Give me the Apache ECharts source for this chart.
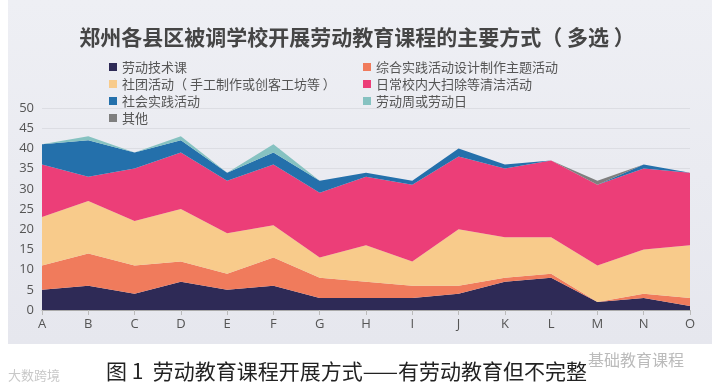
<!DOCTYPE html>
<html><head><meta charset="utf-8">
<script src="https://cdn.jsdelivr.net/npm/echarts@6/dist/echarts.min.js"></script>
<style>html,body{margin:0;padding:0;background:#fff}#c{width:714px;height:392px}</style>
</head><body><div id="c"></div>
<script>
const categories = ['A','B','C','D','E','F','G','H','I','J','K','L','M','N','O'];
const seriesNames = ['劳动技术课','综合实践活动设计制作主题活动','社团活动（ 手工制作或创客工坊等 ）','日常校内大扫除等清洁活动','社会实践活动','劳动周或劳动日','其他'];
const laborTech   = [5,6,4,7,5,6,3,3,3,4,7,8,2,3,1];
const practice    = [6,8,7,5,4,7,5,4,3,2,1,1,0,1,2];
const club        = [12,13,11,13,10,8,5,9,6,14,10,9,9,11,13];
const cleaning    = [13,6,13,14,13,15,16,17,19,18,17,19,20,20,18];
const social      = [5,9,4,3,2,3,3,1,1,2,1,0,0,1,0];
const laborWeek   = [0,1,0,1,0,2,0,0,0,0,0,0,0,0,0];
const other       = [0,0,0,0,0,0,0,0,0,0,0,0,1,0,0];
const yTicks = [0,5,10,15,20,25,30,35,40,45,50];
const colors = ['#2e2a56','#f07b5c','#f8cb8b','#ec3e78','#2470ab','#86c2c1','#7f7f7f'];
const seriesData = [laborTech, practice, club, cleaning, social, laborWeek, other];

const chart = echarts.init(document.getElementById('c'));
chart.setOption({
  animation:false,
  color: colors,
  graphic:[
    {type:'rect', shape:{x:8,y:0,width:704,height:344}, style:{fill:new echarts.graphic.LinearGradient(0,0,0,1,[{offset:0,color:'#eeeff4'},{offset:1,color:'#e6e7ee'}])}, z:-10},
    {type:'text', left:106, top:361, style:{text:'图 1  劳动教育课程开展方式——有劳动教育但不完整', font:'21px "Noto Sans CJK SC"', fill:'#222'}},
    {type:'text', left:8, top:369, style:{text:'大数跨境', font:'13px "Noto Sans CJK SC"', fill:'#c8c8c8'}},
    {type:'text', left:588, top:352, style:{text:'基础教育课程', font:'16px "Noto Sans CJK SC"', fill:'#bbbbbb'}}
  ],
  title:{text:'郑州各县区被调学校开展劳动教育课程的主要方式（ 多选 ）', left:'center', top:22,
    textStyle:{fontSize:21, fontWeight:'bold', color:'#454545', fontFamily:'"Noto Sans CJK SC"'}},
  legend:[
    {orient:'vertical', left:104, top:55, icon:'rect', itemWidth:8, itemHeight:8, itemGap:3,
     textStyle:{fontSize:13, color:'#555', lineHeight:14, fontFamily:'"Noto Sans CJK SC"'},
     data:[seriesNames[0], seriesNames[2], seriesNames[4], seriesNames[6]]},
    {orient:'vertical', left:358, top:55, icon:'rect', itemWidth:8, itemHeight:8, itemGap:3,
     textStyle:{fontSize:13, color:'#555', lineHeight:14, fontFamily:'"Noto Sans CJK SC"'},
     data:[seriesNames[1], seriesNames[3], seriesNames[5]]}
  ],
  grid:{left:42, right:24, top:108, bottom:82},
  xAxis:{type:'category', data:categories, boundaryGap:false,
    axisLine:{lineStyle:{color:'#aaa'}}, axisTick:{show:true, alignWithLabel:true, lineStyle:{color:'#bbb'}},
    axisLabel:{color:'#555', fontSize:13, margin:8, fontFamily:'"Open Sans"'}},
  yAxis:{type:'value', min:yTicks[0], max:yTicks[yTicks.length-1], interval:5,
    axisLine:{show:false}, axisTick:{show:false},
    axisLabel:{color:'#555', fontSize:13, margin:8, fontFamily:'"Open Sans"'},
    splitLine:{lineStyle:{color:'#dcdde3'}}},
  series: seriesNames.map((n,i)=>({
    name:n, type:'line', stack:'total', data:seriesData[i], symbol:'none',
    lineStyle:{width:0}, areaStyle:{opacity:1, color:colors[i]}, itemStyle:{color:colors[i]}
  }))
});
</script></body></html>
